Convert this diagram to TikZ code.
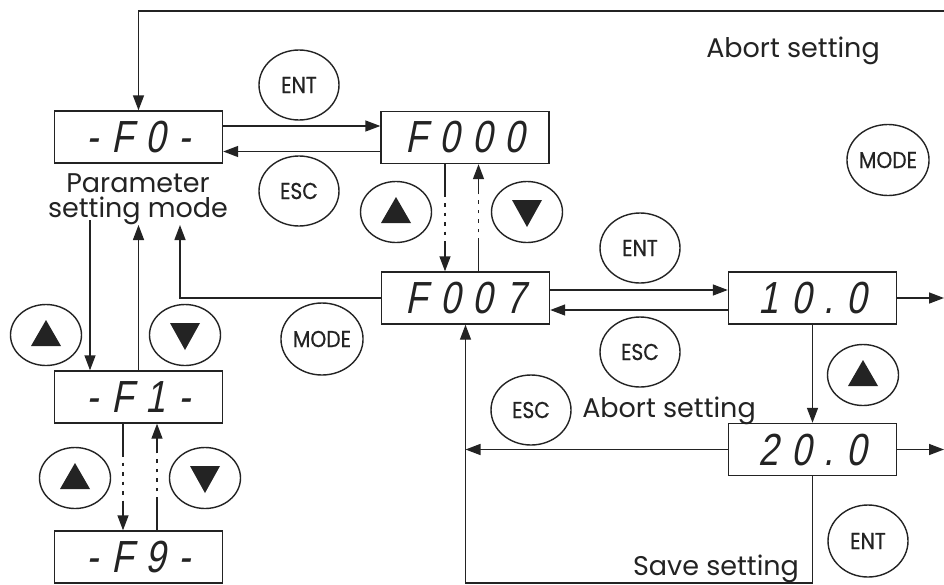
\documentclass[tikz,border=0pt]{standalone}
\usepackage{fontspec}
\setmainfont{Poppins}
\newfontfamily\segfont{Liberation Sans}[FakeStretch=0.8,FakeSlant=0.2,LetterSpace=28]
\newfontfamily\btnfont{Poppins}[FakeStretch=0.88,FakeBold=0.5]
\usetikzlibrary{shapes.geometric,arrows.meta,calc}
\definecolor{ink}{RGB}{35,35,35}
\begin{document}
\begin{tikzpicture}[x=1pt,y=-1pt,color=ink,line width=1.4pt,
  disp/.style={draw,rectangle,minimum width=168pt,minimum height=52pt,inner sep=0pt,
    font=\segfont\fontsize{45}{45}\selectfont},
  btn/.style={draw,ellipse,inner sep=0pt,minimum width=80pt,minimum height=70pt,
    font=\btnfont\fontsize{23}{23}\selectfont},
  tbtn/.style={draw,ellipse,inner sep=0pt,minimum width=71pt,minimum height=61pt},
  upbtn/.style={tbtn,path picture={\fill ([xshift=-15pt,yshift=-11pt]path picture bounding box.center) -- ++(30pt,0pt) -- ++(-15pt,26pt) -- cycle;}},
  dnbtn/.style={tbtn,path picture={\fill ([xshift=-15pt,yshift=12pt]path picture bounding box.center) -- ++(30pt,0pt) -- ++(-15pt,-27pt) -- cycle;}},
  lbl/.style={font=\fontsize{27}{25}\selectfont,inner sep=0pt},
  arr/.style={-{Triangle[length=15pt,width=11pt]}},
  dotline/.style={dash pattern=on 33pt off 6pt on 3.5pt off 6pt on 3.5pt off 6pt on 3.5pt off 6pt on 3.5pt off 6pt on 100pt off 1pt}
]
\fill[white] (0,0) rectangle (944,584);
\useasboundingbox (0,0) rectangle (944,584);

% displays
\node[disp] (F0) at (138.5,137) {-F0-};
\node[disp] (F000) at (465,137.5) {F000};
\node[disp] (F007) at (465.5,298) {F007};
\node[disp] (B10) at (812.5,298) {10.0};
\node[disp] (B20) at (812.5,449.5) {20.0};
\node[disp] (F1) at (138.5,397) {-F1-};
\node[disp] (F9) at (138.5,557) {-F9-};

% labels
\node[lbl,anchor=base] (ab1) at (793,57) {Abort setting};
\node[lbl,anchor=base] (ab2) at (669,417) {Abort setting};
\node[lbl,anchor=base] (sv) at (716,575) {Save setting};
\node[lbl,align=center,anchor=base] (pm) at (138,217) {Parameter\\setting mode};

% buttons
\node[btn] (entA) at (299,85) {ENT};
\node[btn] (escA) at (299,191) {ESC};
\node[upbtn] (upA) at (396,212) {};
\node[dnbtn] (dnA) at (527,212) {};
\node[btn] (entB) at (640,248) {ENT};
\node[btn] (escB) at (640,352) {ESC};
\node[btn,minimum width=81pt,minimum height=71pt] (modeT) at (888,160) {MODE};
\node[btn,minimum width=78pt,minimum height=72pt] (modeA) at (322,339) {MODE};
\node[upbtn] (upL) at (46,335) {};
\node[dnbtn] (dnL) at (185,335) {};
\node[upbtn] (upL2) at (75,478) {};
\node[dnbtn] (dnL2) at (205,478) {};
\node[upbtn] (up10) at (863,375) {};
\node[btn] (escC) at (531,410) {ESC};
\node[btn,minimum height=72pt] (entC) at (868,541) {ENT};

% connectors
\coordinate (topR) at (944,11);
\draw[arr] (topR) -| (F0.north);
\draw[arr] ([yshift=11pt]F0.east) -- ([yshift=11pt]F0.east -| F000.west);
\draw[arr] ([yshift=-14pt]F000.west) -- ([yshift=-14pt]F000.west -| F0.east);
\draw[arr,dotline] ([xshift=-20pt]F000.south) -- ([xshift=-20pt]F000.south |- F007.north);
\draw[arr,dotline] ([xshift=13pt]F007.north) -- ([xshift=13pt]F007.north |- F000.south);
\coordinate (pmA) at (180,225);
\draw[arr] (F007.west) -| (pmA);
\coordinate (pmB) at (138.5,225);
\draw[arr] (F1.north) -- (pmB);
\coordinate (pmC) at (90,220);
\draw[arr] (pmC) -- (pmC |- F1.north);
\draw[arr,dotline] ([xshift=-15.5pt]F1.south) -- ([xshift=-15.5pt]F1.south |- F9.north);
\draw[arr,dotline] ([xshift=18.5pt]F9.north) -- ([xshift=18.5pt]F9.north |- F1.south);
\draw[arr] ([yshift=8pt]F007.east) -- ([yshift=8pt]F007.east -| B10.west);
\draw[arr] ([yshift=-12pt]B10.west) -- ([yshift=-12pt]B10.west -| F007.east);
\coordinate (r1) at (944,298);
\draw[arr] (B10.east) -- (r1);
\coordinate (r2) at (944,449.5);
\draw[arr] (B20.east) -- (r2);
\draw[arr] (B10.south) -- (B20.north);
\draw[arr] (B20.west) -- (B20.west -| F007.south);
\coordinate (bot) at (812.5,583);
\draw[arr] (B20.south) -- (bot) -| (F007.south);
\end{tikzpicture}
\end{document}
